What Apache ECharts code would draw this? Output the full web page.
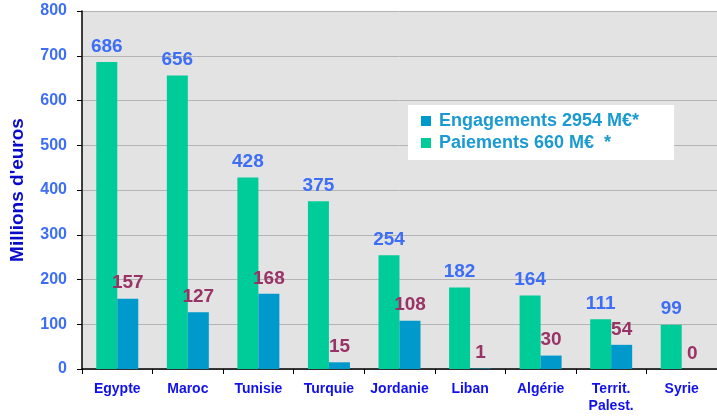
<!DOCTYPE html>
<html>
<head>
<meta charset="utf-8">
<script src="https://cdn.jsdelivr.net/npm/echarts@6/dist/echarts.min.js"></script>
<style>
  html, body { margin: 0; padding: 0; background: #fff; }
  #chart { width: 717px; height: 416px; }
</style>
</head>
<body>
<div id="chart"></div>
<script>
// Data
const countries = ['Egypte', 'Maroc', 'Tunisie', 'Turquie', 'Jordanie', 'Liban', 'Algérie', 'Territ.\nPalest.', 'Syrie'];
const greenValues = [686, 656, 428, 375, 254, 182, 164, 111, 99];
const blueValues = [157, 127, 168, 15, 108, 1, 30, 54, 0];
const blueName = 'Engagements 2954 M€*';
const greenName = 'Paiements 660 M€  *';

const chart = echarts.init(document.getElementById('chart'));

const labelFont = { fontFamily: 'Liberation Sans, Arial, sans-serif', fontWeight: 'bold', fontSize: 19 };

chart.setOption({
    animation: false,
    textStyle: { fontFamily: 'Liberation Sans, Arial, sans-serif' },
    grid: {
        left: 79, top: 11, bottom: 47, width: 645,
        show: true, backgroundColor: '#e3e3e3', borderWidth: 0
    },
    legend: {
        data: [blueName, greenName],
        orient: 'vertical',
        left: 408, top: 105,
        backgroundColor: '#ffffff',
        padding: [7, 35, 8, 13],
        itemGap: 4,
        itemWidth: 10, itemHeight: 10,
        icon: 'rect',
        textStyle: { color: '#1a9ad0', fontWeight: 'bold', fontSize: 18, padding: [0, 0, 0, 3] }
    },
    xAxis: {
        type: 'category',
        data: countries,
        axisLine: { lineStyle: { color: '#000', width: 1.5 } },
        axisTick: { show: true, length: 5, lineStyle: { color: '#000' } },
        axisLabel: { interval: 0, color: '#1010ee', fontWeight: 'bold', fontSize: 14, margin: 12, lineHeight: 17 }
    },
    yAxis: {
        type: 'value',
        min: 0, max: 800, interval: 100,
        name: "Millions d'euros",
        nameLocation: 'middle',
        nameGap: 55,
        nameTextStyle: { color: '#0a0acc', fontWeight: 'bold', fontSize: 19 },
        axisLine: { show: true, lineStyle: { color: '#000', width: 1.5 } },
        axisTick: { show: true, length: 5, lineStyle: { color: '#000' } },
        axisLabel: { color: '#3d6ef5', fontWeight: 'bold', fontSize: 16, margin: 15 },
        splitLine: { lineStyle: { color: '#b4b4b4' } }
    },
    series: [
        {
            name: greenName,
            type: 'bar',
            data: greenValues,
            barWidth: 21,
            barGap: '0%',
            itemStyle: { color: '#00cc99' },
            label: Object.assign({ show: true, position: 'top', distance: 6, color: '#3d6ef5' }, labelFont)
        },
        {
            name: blueName,
            type: 'bar',
            data: blueValues,
            barWidth: 21,
            barGap: '0%',
            itemStyle: { color: '#0099cc' },
            label: Object.assign({ show: true, position: 'top', distance: 6, color: '#993366' }, labelFont)
        }
    ]
});
</script>
</body>
</html>
